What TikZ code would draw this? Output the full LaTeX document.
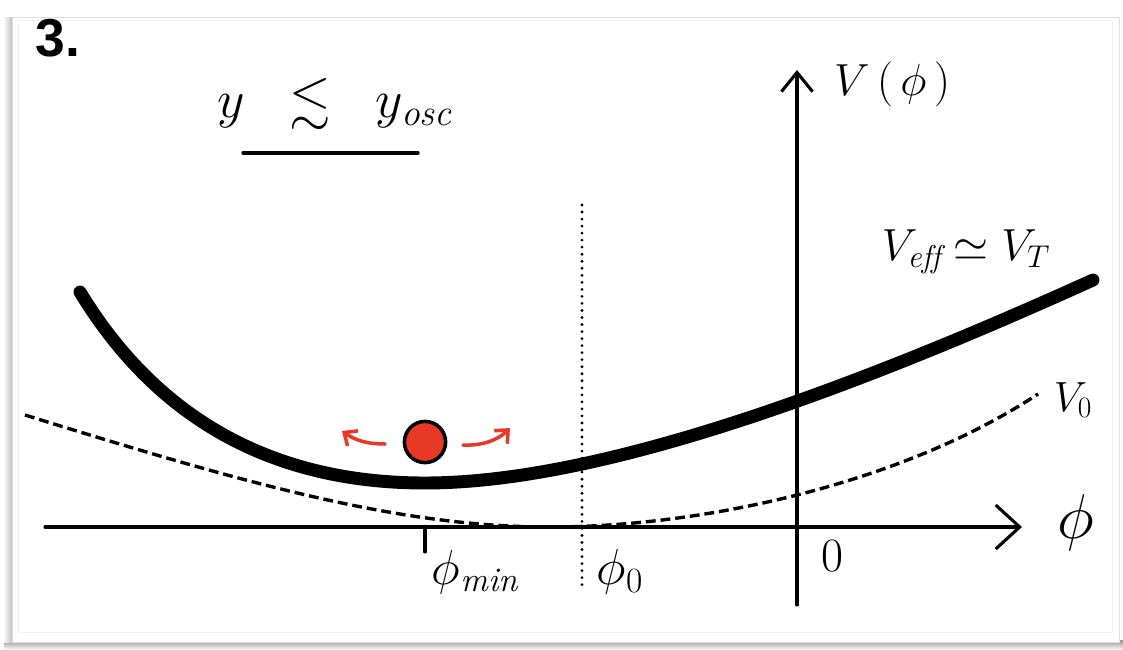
\RequirePackage{fix-cm}
\documentclass[tikz,border=0pt]{standalone}
\usepackage{amsmath,amssymb}
\usepackage{fontspec}
\usepackage{tikz}
\usetikzlibrary{arrows.meta,positioning,calc}
\newfontfamily\headfont{Liberation Sans}
\definecolor{ballred}{RGB}{232,56,38}
\definecolor{frameG}{RGB}{150,150,150}

\begin{document}
\begin{tikzpicture}[x=0.025cm, y=-0.025cm, line cap=round,
  axis/.style={line width=2.2pt, -{Straight Barb[length=6mm, width=11mm, line width=2.2pt]}},
  pot/.style={line width=9.2pt},
  bare/.style={line width=2.4pt, line cap=butt, dash pattern=on 7pt off 3.5pt},
  swing/.style={ballred, line width=2.5pt, -{Straight Barb[length=2.6mm, width=4.6mm, line width=2.5pt]}},
  hand/.style={inner sep=0pt}]
  \useasboundingbox (0,0) rectangle (1123,650);
  % card with shadow
  \shade[top color=frameG, bottom color=white] (4,640) rectangle (1123,650);
  \shade[left color=white, right color=frameG!60] (3,18) rectangle (12,642);
  \draw[gray!25, fill=white] (12,17) rectangle (1119,642);
  \draw[gray!12] (18,20) rectangle (1112,632);
  \node[hand, font={\headfont\bfseries\fontsize{38}{40}\selectfont}] (title) at (58,38) {3.};
  % condition
  \node[hand, font=\fontsize{38}{42}\selectfont] (cond) at (335,104) {$y\;\;\lesssim\;\; y_{\mathit{osc}}$};
  \coordinate (ul) at (243,153);
  \coordinate (ur) at (418,153);
  \draw[line width=2.3pt] (ul) -- (ur);
  % axes
  \coordinate (xl) at (45,527);
  \coordinate (xr) at (1022,527);
  \coordinate (yb) at (797,605);
  \coordinate (yt) at (797,70);
  \draw[axis] (xl) -- (xr);
  \draw[axis, -{Straight Barb[length=4.8mm, width=7.8mm, line width=2.2pt]}] (yb) -- (yt);
  \node[hand, font=\fontsize{32}{34}\selectfont] (vlab) at (892,84) {$V\,(\,\phi\,)$};
  \node[hand, font=\fontsize{45}{48}\selectfont] (philab) at (1076,523) {$\phi$};
  \node[hand, font=\fontsize{34}{36}\selectfont] (zero) at (832,556) {0};
  % phi_min and phi_0
  \coordinate (mn) at (425,527);
  \draw[line width=2.2pt] (mn) -- ++(0,25);
  \node[hand, font=\fontsize{35}{38}\selectfont] (pmin) at (475,572) {$\phi_{\mathit{min}}$};
  \coordinate (dtop) at (582,205);
  \coordinate (dbot) at (582,585);
  \draw[line width=2.2pt, dash pattern=on 0pt off 5pt] (dtop) -- (dbot);
  \node[hand, font=\fontsize{36}{38}\selectfont] (pzero) at (620,572) {$\phi_0$};
  % potentials
  \draw[bare] (25,415) .. controls (250,485) and (400,527) .. (550,527)
     .. controls (700,527) and (900,485) .. (1038,394);
  \draw[pot] (80,292) .. controls (170,440) and (300,483) .. (425,483)
     .. controls (600,483) and (850,390) .. (1093,280);
  \node[hand, font=\fontsize{32}{34}\selectfont] (vefflab) at (966,252) {$V_{\mathit{eff}}\simeq V_T$};
  \node[hand, font=\fontsize{30}{32}\selectfont] (vnull) at (1073,400) {$V_0$};
  % the ball
  \node[circle, draw, line width=2.5pt, fill=ballred, minimum size=1.03cm] (ball) at (425,442) {};
  \coordinate (ls) at (385,444);
  \coordinate (lt) at (342,431);
  \coordinate (rs) at (463,445);
  \coordinate (rt) at (510,428);
  \draw[swing] (ls) .. controls (366,444) and (355,440) .. (lt);
  \draw[swing] (rs) .. controls (484,446) and (499,439) .. (rt);
\end{tikzpicture}
\end{document}
